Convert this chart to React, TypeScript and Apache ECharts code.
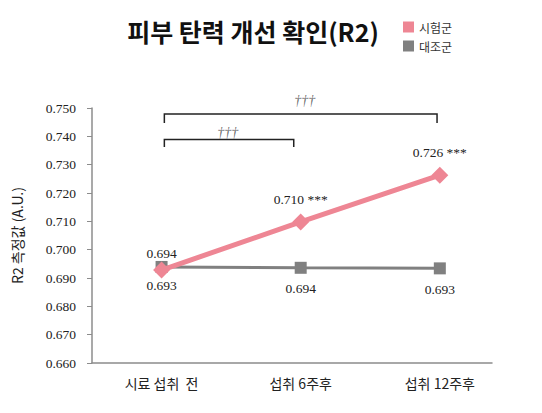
import React, { useEffect, useRef } from "react";
import * as echarts from "echarts";

const categories = ["시료 섭취  전", "섭취 6주후", "섭취 12주후"];
const testName = "시험군";
const controlName = "대조군";
const testValues = [0.6928, 0.7098, 0.7263];
const controlValues = [0.6939, 0.6936, 0.6934];
const testLabelSuffix = ["", " ***", " ***"];
const yTicks = { min: 0.66, max: 0.75, interval: 0.01 };
// significance brackets: [xStart, xEnd, yBottom, yTop]
const bracketBig = [0.02, 1.98, 0.7447, 0.7479];
const bracketSmall = [0.02, 0.95, 0.7362, 0.7389];
const daggerMarks = [
  [1.03, 0.7525],
  [0.475, 0.7415],
];
const daggerText = "†††";

const SERIF = "'Liberation Serif', serif";
const SANS = "'Noto Sans CJK KR', 'Noto Sans', sans-serif";

function bracketCoords(b: number[]) {
  return [
    [b[0], b[2]],
    [b[0], b[3]],
    [b[1], b[3]],
    [b[1], b[2]],
  ];
}

export default function App() {
  const ref = useRef<HTMLDivElement>(null);
  useEffect(() => {
    if (!ref.current) return;
    const chart = echarts.init(ref.current, undefined, { renderer: "svg" });
    chart.setOption({
      animation: false,
      backgroundColor: "#ffffff",
      title: {
        text: "피부 탄력 개선 확인(R2)",
        left: 248,
        top: 13,
        textAlign: "center",
        textStyle: { fontFamily: SANS, fontWeight: "bold", fontSize: 25, color: "#111" },
      },
      legend: {
        orient: "vertical",
        left: 398,
        top: 16,
        itemWidth: 11,
        itemHeight: 11,
        itemGap: 7,
        icon: "rect",
        data: [testName, controlName],
        textStyle: { fontFamily: SANS, fontSize: 12, color: "#333" },
      },
      grid: { left: 92, right: 50, top: 108, bottom: 50 },
      xAxis: {
        type: "value",
        min: -0.5,
        max: 2.375,
        interval: 0.5,
        splitLine: { show: false },
        axisTick: { show: false },
        axisLine: { show: true, onZero: false, lineStyle: { color: "#8c8c8c", width: 1.5 } },
        axisLabel: {
          showMaxLabel: false,
          margin: 13,
          fontFamily: SANS,
          fontSize: 14,
          color: "#222",
          formatter: (v: number) => {
            const r = Math.round(v);
            if (Math.abs(v - r) < 1e-6 && r >= 0 && r < categories.length) return categories[r];
            return "";
          },
        },
      },
      yAxis: {
        type: "value",
        min: yTicks.min,
        max: yTicks.max,
        interval: yTicks.interval,
        name: "R2 측정값 (A.U.)",
        nameLocation: "middle",
        nameGap: 68,
        nameTextStyle: { fontFamily: SANS, fontSize: 14, color: "#222" },
        splitLine: { show: false },
        axisLine: { show: true, onZero: false, lineStyle: { color: "#8c8c8c", width: 1.5 } },
        axisTick: { show: true, length: 5, lineStyle: { color: "#8c8c8c" } },
        axisLabel: {
          margin: 16,
          fontFamily: SERIF,
          fontSize: 13.5,
          color: "#222",
          formatter: (v: number) => v.toFixed(3),
        },
      },
      series: [
        {
          name: controlName,
          type: "line",
          data: controlValues.map((v, i) => [i, v]),
          symbol: "rect",
          symbolSize: 12,
          itemStyle: { color: "#808080" },
          lineStyle: { color: "#808080", width: 3 },
          z: 2,
          label: {
            show: true,
            position: "bottom",
            distance: 8,
            fontFamily: SERIF,
            fontSize: 13.5,
            color: "#222",
            formatter: (p: any) => p.value[1].toFixed(3),
          },
          labelLayout: (p: any) => (p.dataIndex === 0 ? { dy: -34 } : {}),
        },
        {
          name: testName,
          type: "line",
          data: testValues.map((v, i) => [i, v]),
          symbol: "diamond",
          symbolSize: 17,
          itemStyle: { color: "#ee8694" },
          lineStyle: { color: "#ee8694", width: 5 },
          z: 3,
          label: {
            show: true,
            position: "top",
            distance: 7,
            fontFamily: SERIF,
            fontSize: 13.5,
            color: "#222",
            formatter: (p: any) => p.value[1].toFixed(3) + testLabelSuffix[p.dataIndex],
          },
          labelLayout: (p: any) => (p.dataIndex === 0 ? { dy: 38 } : {}),
        },
        {
          type: "lines",
          coordinateSystem: "cartesian2d",
          polyline: true,
          silent: true,
          clip: false,
          lineStyle: { color: "#222", width: 1.5, opacity: 1 },
          data: [{ coords: bracketCoords(bracketBig) }, { coords: bracketCoords(bracketSmall) }],
        },
        {
          type: "scatter",
          symbolSize: 0,
          clip: false,
          silent: true,
          data: daggerMarks,
          label: {
            show: true,
            position: "inside",
            formatter: daggerText,
            fontFamily: SERIF,
            fontStyle: "italic",
            fontSize: 14,
            color: "#444",
          },
        },
      ],
    });
    return () => chart.dispose();
  }, []);
  return <div ref={ref} style={{ width: 542, height: 413, margin: -8 }} />;
}
